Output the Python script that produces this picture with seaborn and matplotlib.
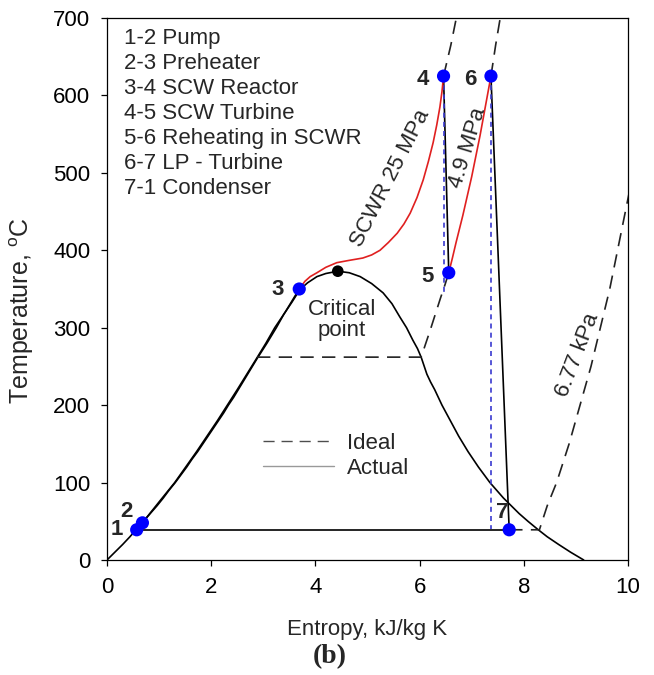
import matplotlib
matplotlib.use("Agg")
import matplotlib.pyplot as plt
from matplotlib.lines import Line2D
import seaborn as sns

# ---------------- data ----------------
# saturation dome, s in kJ/kg K, T in C
dome_s = [0.0, 0.15, 0.30, 0.44, 0.57, 0.70, 0.83, 0.96, 1.08, 1.19, 1.31, 1.42, 1.53, 1.63,
          1.74, 1.84, 1.94, 2.04, 2.14, 2.24, 2.33, 2.43, 2.52, 2.61, 2.70, 2.79, 2.88,
          3.07, 3.25, 3.40, 3.55, 3.70, 3.85, 4.03, 4.20, 4.43, 4.65, 4.86, 5.08, 5.30,
          5.47, 5.62, 5.75, 5.87, 5.96, 6.03, 6.14, 6.21, 6.29, 6.36, 6.43, 6.51, 6.59,
          6.67, 6.75, 6.84, 6.93, 7.03, 7.13, 7.24, 7.35, 7.48, 7.61, 7.76, 7.91, 8.08,
          8.26, 8.45, 8.67, 8.90, 9.15]
dome_T = [0, 10, 20, 30, 40, 50, 60, 70, 80, 90, 100, 110, 120, 130,
          140, 150, 160, 170, 180, 190, 200, 210, 220, 230, 240, 250, 260,
          280, 300, 318, 333, 349, 358, 366, 370, 373, 371, 366, 357, 345,
          331, 314, 300, 284, 273, 262, 240, 230, 220, 210, 200, 190, 180,
          170, 160, 150, 140, 130, 120, 110, 100, 90, 80, 70, 60, 50,
          40, 30, 20, 10, 0]

# state points 1..7
state_lbl = ["1", "2", "3", "4", "5", "6", "7"]
state_s = [0.57, 0.68, 3.69, 6.46, 6.56, 7.37, 7.72]
state_T = [39, 48, 350, 625, 371, 625, 39]
lbl_s = [0.19, 0.38, 3.28, 6.07, 6.16, 6.97, 7.58]
lbl_T = [39, 62, 349, 620, 366, 620, 61]

crit_s = [4.43]
crit_T = [373]

# process lines (actual)
pre_s = [0.68, 1.00, 1.30, 1.72, 2.12, 2.50, 2.85, 3.05, 3.22, 3.42, 3.69]   # 2-3
pre_T = [48, 75, 100, 140, 180, 220, 258, 280, 300, 320, 350]
scw_s = [3.69, 3.80, 3.90, 4.03, 4.20, 4.41, 4.65, 4.91, 5.08, 5.24, 5.40, 5.57,
         5.70, 5.82, 5.95, 6.07, 6.17, 6.26, 6.33, 6.39, 6.43, 6.46]            # 3-4
scw_T = [350, 360, 366, 371, 378, 384, 387, 390, 394, 400, 410, 422,
         434, 448, 468, 491, 515, 539, 562, 585, 605, 625]
rht_s = [6.56, 6.63, 6.70, 6.83, 7.00, 7.16, 7.28, 7.37]                     # 5-6
rht_T = [371, 390, 410, 445, 495, 548, 592, 625]
hpt_s = [6.46, 6.56]                                                          # 4-5
hpt_T = [625, 371]
lpt_s = [7.37, 7.72]                                                          # 6-7
lpt_T = [625, 39]
cnd_s = [0.57, 7.72]                                                          # 7-1
cnd_T = [39, 39]
pmp_s = [0.57, 0.68]                                                          # 1-2
pmp_T = [39, 48]

# ideal expansions
hpi_s = [6.46, 6.46]
hpi_T = [625, 345]
lpi_s = [7.37, 7.37]
lpi_T = [625, 40]

# isobars (dashed)
p25_s = [6.46, 6.60, 6.72]
p25_T = [625, 665, 705]
p49_top_s = [7.37, 7.46, 7.56]
p49_top_T = [625, 665, 705]
p49_low_s = [2.88, 6.03, 6.10, 6.20, 6.30, 6.40, 6.49, 6.56]
p49_low_T = [262, 262, 276, 296, 317, 338, 356, 371]
p677_s = [7.72, 8.30, 8.45, 8.63, 8.87, 9.08, 9.29, 9.47, 9.65, 9.80, 9.95, 10.10]
p677_T = [39, 39, 70, 100, 150, 200, 250, 300, 350, 400, 450, 500]

steps = ["1-2 Pump", "2-3 Preheater", "3-4 SCW Reactor", "4-5 SCW Turbine",
         "5-6 Reheating in SCWR", "6-7 LP - Turbine", "7-1 Condenser"]

# ---------------- style ----------------
sns.set_theme(style="ticks")
plt.rcParams["font.family"] = ["Liberation Sans", "DejaVu Sans"]
plt.rcParams["mathtext.fontset"] = "custom"
plt.rcParams["mathtext.rm"] = "Liberation Sans"

fig = plt.figure(figsize=(6.54, 6.75), dpi=100)
ax = fig.add_axes([0.1636, 0.1704, 0.7966, 0.8029])

LW = 1.2
DASH = (0, (8, 5))
BDASH = (0, (3, 2.5))
FS = 16


def curve(xs, ys, **kw):
    sns.lineplot(x=xs, y=ys, sort=False, estimator=None, ax=ax, legend=False, **kw)


curve(dome_s, dome_T, color="black", linewidth=LW)
curve(pre_s, pre_T, color="black", linewidth=LW)
curve(pmp_s, pmp_T, color="black", linewidth=LW)
curve(cnd_s, cnd_T, color="black", linewidth=LW)
curve(hpt_s, hpt_T, color="black", linewidth=LW)
curve(lpt_s, lpt_T, color="black", linewidth=LW)

curve(p25_s, p25_T, color="#222222", linewidth=LW, linestyle=DASH)
curve(p49_top_s, p49_top_T, color="#222222", linewidth=LW, linestyle=DASH)
curve(p49_low_s, p49_low_T, color="#222222", linewidth=LW, linestyle=DASH)
curve(p677_s, p677_T, color="#222222", linewidth=LW, linestyle=DASH)

curve(hpi_s, hpi_T, color="#3a3ad0", linewidth=LW, linestyle=BDASH)
curve(lpi_s, lpi_T, color="#3a3ad0", linewidth=LW, linestyle=BDASH)

curve(scw_s, scw_T, color="#e02020", linewidth=LW)
curve(rht_s, rht_T, color="#e02020", linewidth=LW)

sns.scatterplot(x=state_s, y=state_T, color="#0000ff", s=90, edgecolor="none", ax=ax, zorder=5)
sns.scatterplot(x=crit_s, y=crit_T, color="black", s=70, edgecolor="none", ax=ax, zorder=5)

for lb, xs, ys in zip(state_lbl, lbl_s, lbl_T):
    ax.text(xs, ys, lb, fontsize=FS, fontweight="bold", ha="center", va="center")

ax.text(4.51, 310, "Critical\npoint", fontsize=FS, ha="center", va="center", linespacing=1.05)
ax.text(5.43, 493, "SCWR 25 MPa", fontsize=FS, rotation=63, ha="center", va="center")
ax.text(6.93, 532, "4.9 MPa", fontsize=FS, rotation=73, ha="center", va="center")
ax.text(9.04, 265, "6.77 kPa", fontsize=FS, rotation=69, ha="center", va="center")

for i, txt in enumerate(steps):
    ax.text(0.33, 674 - 32.3 * i, txt, fontsize=FS, ha="left", va="center")

handles = [Line2D([], [], color="0.3", linewidth=1.0, linestyle=DASH),
           Line2D([], [], color="0.6", linewidth=1.0)]
ax.legend(handles, ["Ideal", "Actual"], loc="center left", bbox_to_anchor=(0.27, 0.192),
          frameon=False, fontsize=FS, handlelength=3.2, handletextpad=0.55, labelspacing=0.2,
          borderpad=0.2)

ax.set_xlim(0, 10)
ax.set_ylim(0, 700)
ax.set_xticks(range(0, 11, 2))
ax.set_yticks(range(0, 701, 100))
ax.tick_params(direction="out", length=4, width=0.9, labelsize=FS, colors="black", pad=8)
for sp in ax.spines.values():
    sp.set_visible(True)
    sp.set_linewidth(0.9)
    sp.set_color("black")

ax.set_xlabel("Entropy, kJ/kg K", fontsize=FS)
ax.set_ylabel(r"Temperature, $^{\rm o}$C", fontsize=18)
ax.xaxis.set_label_coords(0.5, -0.109)
ax.yaxis.set_label_coords(-0.137, 0.46)

fig.text(330 / 654, 1 - 657 / 675, "(b)", fontsize=20, fontweight="bold",
         family=["Liberation Serif", "DejaVu Serif"], ha="center", va="center")

fig.savefig("out.png", dpi=100)
